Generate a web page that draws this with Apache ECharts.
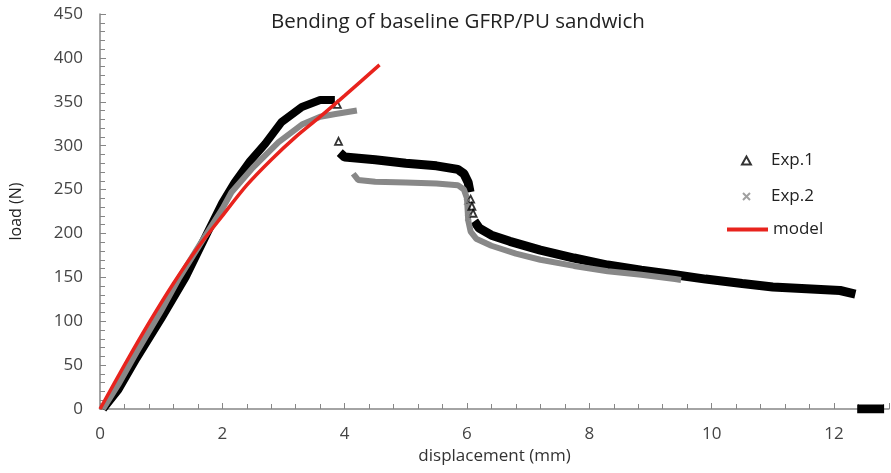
<!DOCTYPE html>
<html><head><meta charset="utf-8">
<script src="https://cdn.jsdelivr.net/npm/echarts@6/dist/echarts.min.js"></script>
<style>html,body{margin:0;padding:0;background:#fff}#c{width:891px;height:473px}</style>
</head><body><div id="c"></div>
<script>
// Exp.1 (black triangles)
var exp1Rise = [[0.05,0],[0.3,22],[0.6,58],[1.0,103],[1.4,150],[1.75,200],[2.0,235],[2.2,258],[2.45,282],[2.7,302],[2.97,327],[3.3,344],[3.6,352],[3.84,352]];
var exp1Plateau = [[3.92,292],[4.0,287],[4.5,284],[5.0,280],[5.5,277],[5.85,273],[5.95,268],[6.02,258],[6.05,247]];
var exp1Tail = [[6.12,214],[6.2,206],[6.4,198],[6.7,191],[7.2,181],[7.75,172],[8.3,164],[8.85,158],[9.4,153],[9.9,148],[10.5,143],[11.0,139],[11.55,137],[12.1,135],[12.35,131]];
var exp1Residual = [[12.38,0],[12.5,0],[12.6,0],[12.7,0],[12.82,0]];
var exp1Markers = [[3.88,347],[3.9,305],[6.06,239],[6.08,231],[6.1,223]];
// Exp.2 (grey crosses)
var exp2Rise = [[0.05,0],[0.3,28],[0.6,65],[1.0,112],[1.3,150],[1.7,195],[2.0,228],[2.15,247],[2.5,275],[2.92,304],[3.3,324],[3.6,333],[3.85,336],[4.2,340]];
var exp2Tail = [[4.14,268],[4.22,261],[4.5,259],[5.0,258],[5.5,257],[5.85,255],[5.95,250],[6.0,240],[6.02,215],[6.06,202],[6.15,194],[6.4,186],[6.8,177],[7.2,170],[7.75,163],[8.3,157],[8.85,153],[9.4,148],[9.5,147]];
var exp2Markers = [[6.0,236],[6.02,218]];
// model (red line)
var modelCurve = [[0,0],[0.4,50],[0.8,98],[1.2,143],[1.6,184],[2.0,220],[2.4,255],[2.8,284],[3.2,310],[3.6,333],[4.0,357],[4.57,392]];

var FONT = '"Open Sans", sans-serif';
var triPath = 'path://M5,0L10,9L0,9Z';
var crossPath = 'path://M0,0L10,10M10,0L0,10';

function band(name, data, color, width, z) {
  return { name: name, type: 'line', data: data, showSymbol: false, symbol: 'none',
    lineStyle: { color: color, width: width }, itemStyle: { color: color }, z: z, silent: true };
}
function leg(name, icon, left, top, w, h, gap) {
  return { orient: 'vertical', left: left, top: top, padding: 0, itemWidth: w, itemHeight: h,
    textStyle: { fontFamily: FONT, fontSize: 17, color: '#222', padding: [0, 0, 0, gap] },
    data: [{ name: name, icon: icon }] };
}

var chart = echarts.init(document.getElementById('c'));
chart.setOption({
  animation: false,
  title: { text: 'Bending of baseline GFRP/PU sandwich', left: 266, top: 7,
    textStyle: { fontFamily: FONT, fontSize: 20.5, fontWeight: 'normal', color: '#222' } },
  legend: [
    leg('Exp.1', triPath, 741, 152, 9, 8, 15),
    leg('Exp.2', crossPath, 742, 188, 7, 7, 16),
    leg('model', 'rect', 727, 221, 41, 4, 0)
  ],
  grid: { left: 98, right: 2, top: 14, bottom: 64, containLabel: false },
  xAxis: { type: 'value', min: 0, max: 12.9, interval: 2,
    name: 'displacement (mm)', nameLocation: 'middle', nameGap: 32,
    nameTextStyle: { fontFamily: FONT, fontSize: 17, color: '#333' },
    axisLine: { lineStyle: { color: '#868686', width: 1.5 } },
    axisTick: { inside: true, length: 6, lineStyle: { color: '#868686' } },
    minorTick: { show: true, splitNumber: 5, length: 5, lineStyle: { color: '#868686' } },
    splitLine: { show: false },
    axisLabel: { fontFamily: FONT, fontSize: 17, color: '#444', margin: 17, showMaxLabel: false } },
  yAxis: { type: 'value', min: 0, max: 450, interval: 50,
    name: 'load (N)', nameLocation: 'middle', nameGap: 76,
    nameTextStyle: { fontFamily: FONT, fontSize: 16, color: '#222' },
    axisLine: { show: true, lineStyle: { color: '#868686', width: 1.5 } },
    axisTick: { show: true, inside: true, length: 6, lineStyle: { color: '#868686' } },
    minorTick: { show: true, splitNumber: 5, length: 5, lineStyle: { color: '#868686' } },
    splitLine: { show: false },
    axisLabel: { fontFamily: FONT, fontSize: 17, color: '#444', margin: 17 } },
  series: [
    { name: 'Exp.1', type: 'scatter', data: exp1Markers, symbol: triPath, symbolSize: 7,
      itemStyle: { color: 'rgba(255,255,255,0)', borderColor: '#000', borderWidth: 1.8 }, z: 5 },
    { name: 'Exp.2', type: 'scatter', data: exp2Markers, symbol: crossPath, symbolSize: 6,
      itemStyle: { color: '#888', borderColor: '#888', borderWidth: 1.5 }, z: 5 },
    band('Exp.1', exp1Rise, '#000', 8, 2),
    band('Exp.1', exp1Plateau, '#000', 9, 2),
    band('Exp.1', exp1Tail, '#000', 9, 2),
    band('Exp.1', exp1Residual, '#000', 9, 2),
    band('Exp.2', exp2Rise, '#888', 6, 3),
    band('Exp.2', exp2Tail, '#888', 6, 3),
    { name: 'model', type: 'line', data: modelCurve, showSymbol: false, symbol: 'none', smooth: 0.3,
      lineStyle: { color: '#e8231d', width: 3.5 }, itemStyle: { color: '#e8231d' }, z: 6 }
  ]
});
</script></body></html>
